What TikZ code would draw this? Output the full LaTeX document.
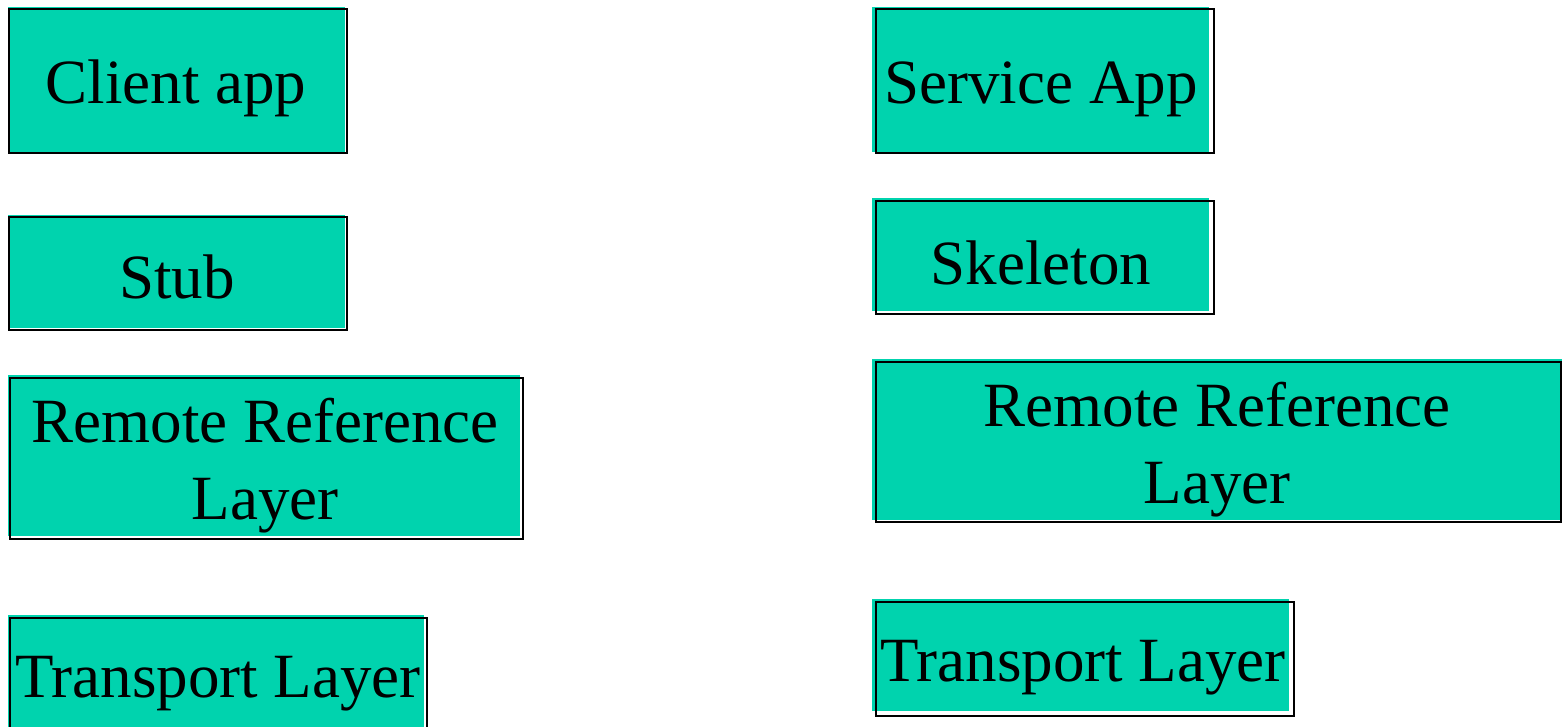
\documentclass[tikz,border=0pt]{standalone}
\usepackage{fontspec}
\setmainfont{Liberation Serif}
\definecolor{boxteal}{RGB}{0,211,174}
\begin{document}
\begin{tikzpicture}[x=1pt,y=-1pt,
  boxfill/.style={fill=boxteal},
  boxline/.style={draw=black,line width=1.6pt},
  txt/.style={inner sep=0pt,outer sep=0pt,font=\fontsize{63}{76.5}\selectfont,text=black,anchor=base,align=center}]
\useasboundingbox (0,0) rectangle (1562,727);
% Client app
\fill[boxfill] (8,7) rectangle (345,152);
\draw[boxline] (9,9) rectangle (347,153);
\node[txt] (clientapp) at (176,104) {Client app};
% Service App
\fill[boxfill] (872,7) rectangle (1209,152);
\draw[boxline] (876,9) rectangle (1214,153);
\node[txt] (serviceapp) at (1041,104) {Service App};
% Stub
\fill[boxfill] (8,215) rectangle (345,328);
\draw[boxline] (9,217) rectangle (347,330);
\node[txt] (stub) at (177,298) {Stub};
% Skeleton
\fill[boxfill] (872,198) rectangle (1209,311);
\draw[boxline] (876,201) rectangle (1214,314);
\node[txt] (skeleton) at (1041,284) {Skeleton};
% Remote Reference Layer left
\fill[boxfill] (8,375) rectangle (520,536);
\draw[boxline] (10,378) rectangle (523,539);
\node[txt] (rrlc) at (265,519) {Remote Reference\\Layer};
% Remote Reference Layer right
\fill[boxfill] (872,359) rectangle (1562,520);
\draw[boxline] (876,362) rectangle (1561,522);
\node[txt] (rrls) at (1217,503) {Remote Reference\\Layer};
% Transport left
\fill[boxfill] (8,615) rectangle (424,727);
\draw[boxline] (10,618) rectangle (427,740);
\node[txt] (tlc) at (218,697) {Transport Layer};
% Transport right
\fill[boxfill] (872,599) rectangle (1289,711);
\draw[boxline] (876,602) rectangle (1294,716);
\node[txt] (tls) at (1083,681) {Transport Layer};
\end{tikzpicture}
\end{document}
